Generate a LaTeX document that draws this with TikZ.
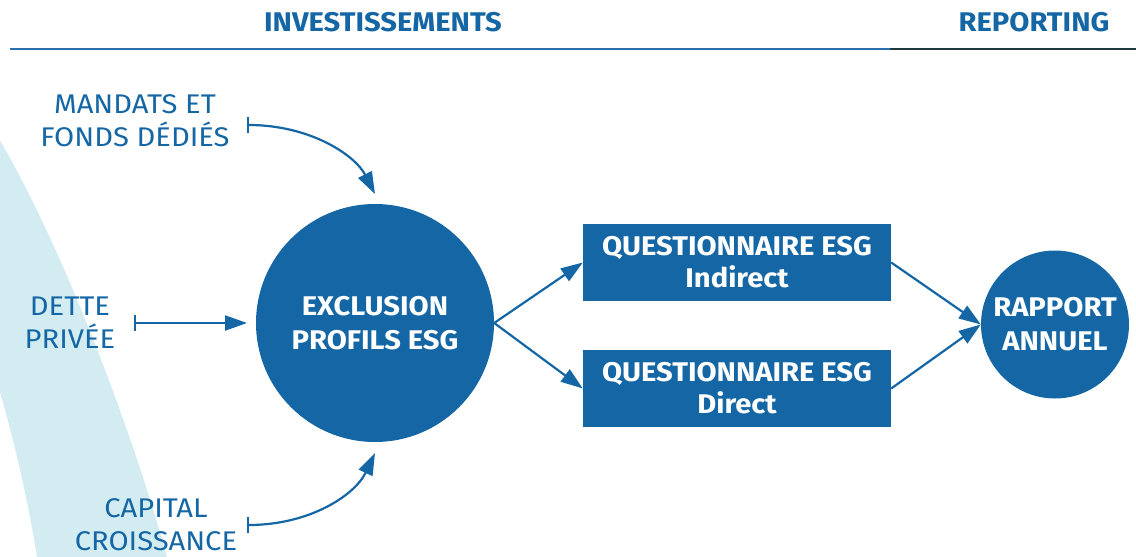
\documentclass[tikz,border=0pt]{standalone}
\usepackage{fontspec}
\setmainfont{Fira Sans}[FakeStretch=1.08]
\usetikzlibrary{arrows.meta}
\definecolor{mainblue}{HTML}{1466A5}
\definecolor{lineblue}{HTML}{2A70AE}
\definecolor{darkline}{HTML}{1E3A40}
\definecolor{bandblue}{HTML}{D3ECF2}
\tikzset{
  x=1pt,y=1pt,
  label/.style={text=mainblue,font=\fontsize{27}{33}\selectfont,align=center,inner sep=0pt},
  header/.style={text=mainblue,font=\bfseries\fontsize{27}{30}\selectfont,inner sep=0pt},
  bigcirc/.style={circle,fill=mainblue,text=white,font=\bfseries\fontsize{27}{34}\selectfont,align=center,inner sep=0pt},
  qbox/.style={rectangle,fill=mainblue,text=white,font=\bfseries\fontsize{27}{32}\selectfont,align=center,minimum width=308pt,minimum height=77pt,inner sep=0pt},
  conn/.style={draw=mainblue,line width=2.2pt,-{Triangle[length=22pt,width=15pt]}},
  inconn/.style={draw=mainblue,line width=2.2pt,{Bar[width=16pt,line width=2.2pt]}-{Triangle[length=22pt,width=15pt]}},
}
\begin{document}
\begin{tikzpicture}
\useasboundingbox (0,0) rectangle (1136,-557);
\begin{scope}
\clip (0,0) rectangle (1136,-557);
\fill[bandblue] (-2,-137) .. controls (65,-250) and (135,-440) .. (167,-557)
  -- (37,-557) .. controls (28,-500) and (14,-440) .. (-2,-385) -- cycle;
\end{scope}
% header
\node[header] (inv) at (383,-22) {INVESTISSEMENTS};
\node[header] (rep) at (1034,-22) {REPORTING};
\coordinate (l0) at (10,-49);
\coordinate (l1) at (890,-49);
\coordinate (l2) at (1136,-49);
\draw[lineblue,line width=2.6pt] (l0) -- (l1);
\draw[darkline,line width=2.6pt] (l1) -- (l2);
% main nodes
\node[bigcirc,minimum size=238pt] (excl) at (375,-323) {EXCLUSION\\PROFILS ESG};
\node[qbox] (q1) at (737,-262.5) {QUESTIONNAIRE ESG\\Indirect};
\node[qbox] (q2) at (737,-388.5) {QUESTIONNAIRE ESG\\Direct};
\node[bigcirc,minimum size=148pt] (rap) at (1055,-324.5) {RAPPORT\\ANNUEL};
% labels
\node[label] (mand) at (135,-121) {MANDATS ET\\FONDS DÉDIÉS};
\node[label] (dette) at (70,-323) {DETTE\\PRIVÉE};
\node[label] (cap) at (156,-525) {CAPITAL\\CROISSANCE};
\coordinate (mS) at (247,-125);
\coordinate (dS) at (134,-323);
\coordinate (cS) at (247,-525);
\coordinate (mT) at (375,-194);
\coordinate (dT) at (247,-323);
\coordinate (cT) at (375,-453);
% connectors
\draw[inconn] (mS) .. controls (310,-125) and (355,-155) .. (mT);
\draw[inconn] (dS) -- (dT);
\draw[inconn] (cS) .. controls (310,-525) and (355,-495) .. (cT);
\draw[conn] (excl.east) -- (q1.west);
\draw[conn] (excl.east) -- (q2.west);
\draw[conn] (q1.east) -- (rap.west);
\draw[conn] (q2.east) -- (rap.west);
\end{tikzpicture}
\end{document}
